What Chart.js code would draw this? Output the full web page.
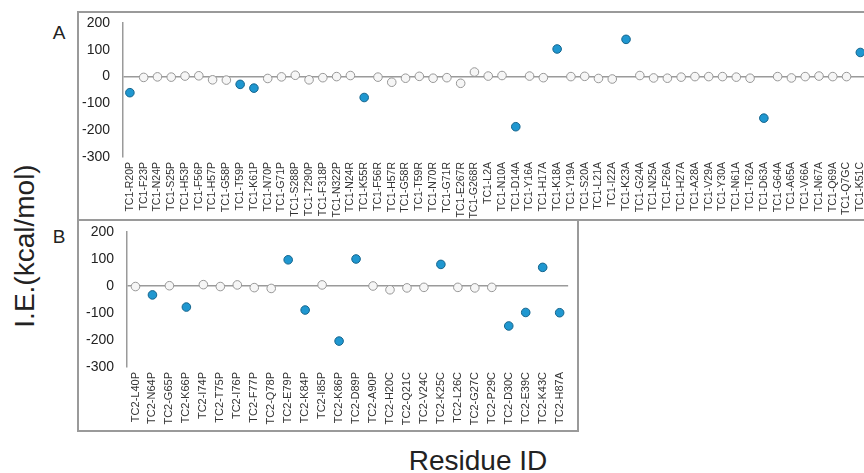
<!DOCTYPE html>
<html>
<head>
<meta charset="utf-8">
<script src="https://cdn.jsdelivr.net/npm/chart.js@4.4.1/dist/chart.umd.min.js"></script>
<style>
  html, body { margin: 0; padding: 0; background: #fff; }
  body { position: relative; width: 864px; height: 473px; overflow: hidden; font-family: "Liberation Sans", Arial, sans-serif; color: #222; }
  .box { position: absolute; box-sizing: border-box; border: 2px solid #9a9a9a; }
  #boxA { left: 77px; top: 11px; width: 900px; height: 210px; }
  #boxB { left: 77px; top: 219px; width: 502px; height: 213px; }
  canvas { position: absolute; }
  #chartA { left: 78px; top: 12px; }
  #chartB { left: 78px; top: 220px; }
  .txt { position: absolute; white-space: nowrap; transform: translate(-50%, -50%); }
  #panelA { left: 59px; top: 33px; font-size: 19px; }
  #panelB { left: 59px; top: 237px; font-size: 19px; }
  #yTitle { left: 25px; top: 246px; font-size: 28px; transform: translate(-50%, -50%) rotate(-90deg); }
  #xTitle { left: 478px; top: 461px; font-size: 28px; }
</style>
</head>
<body>
<div class="box" id="boxA"></div>
<div class="box" id="boxB"></div>
<canvas id="chartA" width="800" height="208"></canvas>
<canvas id="chartB" width="500" height="211"></canvas>
<div class="txt" id="panelA">A</div>
<div class="txt" id="panelB">B</div>
<div class="txt" id="yTitle">I.E.(kcal/mol)</div>
<div class="txt" id="xTitle">Residue ID</div>
<script>
  // panel A residues (last one is cut off at the right edge in the source figure)
  const tc1Residues = [
    'TC1-R20P', 'TC1-F23P', 'TC1-N24P', 'TC1-S25P', 'TC1-H53P', 'TC1-F56P', 'TC1-H57P', 'TC1-G58P',
    'TC1-T59P', 'TC1-K61P', 'TC1-N70P', 'TC1-G71P', 'TC1-S288P', 'TC1-T290P', 'TC1-F318P', 'TC1-N322P',
    'TC1-N24R', 'TC1-K55R', 'TC1-F56R', 'TC1-H57R', 'TC1-G58R', 'TC1-T59R', 'TC1-N70R', 'TC1-G71R',
    'TC1-E267R', 'TC1-G268R', 'TC1-L2A', 'TC1-N10A', 'TC1-D14A', 'TC1-Y16A', 'TC1-H17A', 'TC1-K18A',
    'TC1-Y19A', 'TC1-S20A', 'TC1-L21A', 'TC1-I22A', 'TC1-K23A', 'TC1-G24A', 'TC1-N25A', 'TC1-F26A',
    'TC1-H27A', 'TC1-A28A', 'TC1-V29A', 'TC1-Y30A', 'TC1-N61A', 'TC1-T62A', 'TC1-D63A', 'TC1-G64A',
    'TC1-A65A', 'TC1-V66A', 'TC1-N67A', 'TC1-Q69A', 'TC1-Q7GC', 'TC1-K51C'
  ];
  const tc1Energy = [
    -60, -3, -1, -2, 2, 3, -12, -13,
    -29, -43, -7, -1, 5, -12, -4, 0,
    4, -78, -2, -21, -6, 1, -6, -4,
    -25, 17, 2, 4, -187, 2, -4, 103,
    0, 1, -7, -9, 139, 4, -5, -6,
    -2, 0, 0, 0, -2, -6, -155, 0,
    -5, 0, 2, 0, 0, 90
  ];
  const tc1HotSpots = ['TC1-R20P', 'TC1-T59P', 'TC1-K61P', 'TC1-K55R', 'TC1-D14A', 'TC1-K18A', 'TC1-K23A', 'TC1-D63A', 'TC1-K51C'];

  // panel B residues
  const tc2Residues = [
    'TC2-L40P', 'TC2-N64P', 'TC2-G65P', 'TC2-K66P', 'TC2-I74P', 'TC2-T75P', 'TC2-I76P', 'TC2-F77P',
    'TC2-Q78P', 'TC2-E79P', 'TC2-K84P', 'TC2-I85P', 'TC2-K86P', 'TC2-D89P', 'TC2-A90P', 'TC2-H20C',
    'TC2-Q21C', 'TC2-V24C', 'TC2-K25C', 'TC2-L26C', 'TC2-G27C', 'TC2-P29C', 'TC2-D30C', 'TC2-E39C',
    'TC2-K43C', 'TC2-H87A'
  ];
  const tc2Energy = [
    -2, -33, 1, -78, 5, -2, 4, -6,
    -9, 97, -89, 4, -204, 100, 0, -14,
    -7, -5, 80, -5, -7, -5, -148, -98,
    69, -99
  ];
  const tc2HotSpots = ['TC2-N64P', 'TC2-K66P', 'TC2-E79P', 'TC2-K84P', 'TC2-K86P', 'TC2-D89P', 'TC2-K25C', 'TC2-D30C', 'TC2-E39C', 'TC2-K43C', 'TC2-H87A'];

  const yTicks = [-300, -200, -100, 0, 100, 200];

  const axisGray = '#9a9a9a';
  const hotFill = '#1f97d0';
  const hotEdge = '#15648c';
  const coldFill = '#f6f6f6';
  const coldEdge = '#979797';

  function buildPanel(canvasId, residues, energy, hotSpots, layout) {
    const isHot = residues.map(r => hotSpots.includes(r));
    return new Chart(document.getElementById(canvasId), {
      type: 'line',
      data: {
        labels: residues,
        datasets: [{
          data: energy,
          showLine: false,
          pointRadius: 4.3,
          pointBorderWidth: 1,
          pointBackgroundColor: isHot.map(h => h ? hotFill : coldFill),
          pointBorderColor: isHot.map(h => h ? hotEdge : coldEdge)
        }]
      },
      options: {
        responsive: false,
        animation: false,
        layout: { padding: { left: 0, top: layout.top, right: layout.right, bottom: 0 } },
        plugins: { legend: { display: false }, tooltip: { enabled: false } },
        scales: {
          x: {
            type: 'category',
            offset: true,
            grid: { display: false, drawTicks: false },
            border: { display: false },
            ticks: {
              autoSkip: false,
              minRotation: 90,
              maxRotation: 90,
              padding: 5,
              color: '#333',
              font: { family: 'Liberation Sans', size: layout.labelSize }
            },
            afterFit: scale => { scale.height = layout.xHeight; }
          },
          y: {
            min: yTicks[0],
            max: yTicks[yTicks.length - 1],
            afterBuildTicks: scale => { scale.ticks = yTicks.map(v => ({ value: v })); },
            grid: {
              drawTicks: false,
              lineWidth: 1.5,
              color: ctx => ctx.tick && ctx.tick.value === 0 ? axisGray : 'rgba(0,0,0,0)'
            },
            border: { display: true, color: axisGray, width: 1.5 },
            ticks: {
              padding: 13,
              color: '#222',
              font: { family: 'Liberation Sans', size: 14 }
            },
            afterFit: scale => {
              scale.width = layout.yWidth;
              // tick padding is only meant as a horizontal gap here
              scale.paddingTop = 0;
              scale.paddingBottom = 0;
            }
          }
        }
      }
    });
  }

  buildPanel('chartA', tc1Residues, tc1Energy, tc1HotSpots,
    { top: 11, right: 7.6, xHeight: 63, yWidth: 45, labelSize: 10.5 });
  buildPanel('chartB', tc2Residues, tc2Energy, tc2HotSpots,
    { top: 12, right: 7.7, xHeight: 64, yWidth: 49, labelSize: 11 });
</script>
</body>
</html>
